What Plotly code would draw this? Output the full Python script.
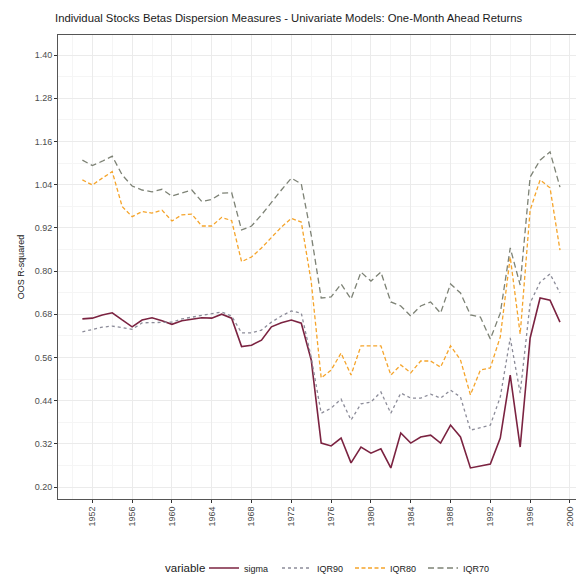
import plotly.graph_objects as go

years = list(range(1951, 2000))

sigma = [0.667, 0.669, 0.678, 0.684, 0.664, 0.645, 0.664, 0.670, 0.662, 0.652,
         0.662, 0.666, 0.670, 0.669, 0.680, 0.669, 0.590, 0.594, 0.608, 0.645,
         0.656, 0.664, 0.655, 0.553, 0.322, 0.314, 0.336, 0.267, 0.311, 0.294,
         0.306, 0.253, 0.350, 0.322, 0.339, 0.344, 0.322, 0.372, 0.339, 0.253,
         0.258, 0.264, 0.336, 0.511, 0.311, 0.614, 0.725, 0.719, 0.658]

iqr90 = [0.631, 0.638, 0.644, 0.647, 0.643, 0.638, 0.656, 0.656, 0.656, 0.658,
         0.667, 0.672, 0.678, 0.681, 0.686, 0.675, 0.628, 0.628, 0.636, 0.658,
         0.675, 0.689, 0.683, 0.560, 0.405, 0.419, 0.444, 0.386, 0.431, 0.436,
         0.464, 0.405, 0.461, 0.447, 0.447, 0.458, 0.447, 0.469, 0.450, 0.358,
         0.364, 0.372, 0.450, 0.614, 0.461, 0.711, 0.769, 0.792, 0.739]

iqr80 = [1.053, 1.039, 1.058, 1.076, 0.979, 0.951, 0.965, 0.961, 0.969, 0.939,
         0.956, 0.958, 0.925, 0.925, 0.949, 0.940, 0.826, 0.839, 0.864, 0.892,
         0.922, 0.946, 0.936, 0.770, 0.503, 0.525, 0.572, 0.511, 0.592, 0.592,
         0.592, 0.511, 0.539, 0.517, 0.550, 0.550, 0.533, 0.592, 0.553, 0.456,
         0.525, 0.531, 0.617, 0.839, 0.625, 0.969, 1.053, 1.031, 0.858]

iqr70 = [1.108, 1.093, 1.105, 1.119, 1.067, 1.036, 1.025, 1.020, 1.027, 1.008,
         1.017, 1.025, 0.993, 0.999, 1.016, 1.018, 0.914, 0.925, 0.956, 0.992,
         1.025, 1.058, 1.042, 0.900, 0.725, 0.728, 0.764, 0.722, 0.797, 0.772,
         0.797, 0.714, 0.703, 0.675, 0.703, 0.714, 0.683, 0.764, 0.739, 0.678,
         0.672, 0.611, 0.683, 0.864, 0.761, 1.061, 1.108, 1.131, 1.033]

y_ticks = [0.20, 0.32, 0.44, 0.56, 0.68, 0.80, 0.92, 1.04, 1.16, 1.28, 1.40]
x_ticks = list(range(1952, 2001, 4))

series = [
    ("sigma", sigma, "#7b2341", "solid", 1.6),
    ("IQR90", iqr90, "#8c8c99", "dot", 1.3),
    ("IQR80", iqr80, "#f5a42a", "4px,2.5px", 1.3),
    ("IQR70", iqr70, "#7d8275", "6px,3.5px", 1.3),
]

fig = go.Figure()
for name, vals, color, dash, w in series:
    fig.add_trace(go.Scatter(x=years, y=vals, mode="lines", name=name,
                             line=dict(color=color, dash=dash, width=w)))

fig.update_layout(
    width=576, height=574,
    margin=dict(l=58, r=0, t=35, b=75),
    paper_bgcolor="white", plot_bgcolor="white",
    font=dict(family="Liberation Sans, Arial, sans-serif", color="#4d4d4d", size=9),
    title=dict(text="Individual Stocks Betas Dispersion Measures - Univariate Models: One-Month Ahead Returns",
               x=55/576, xanchor="left", xref="container",
               y=1 - 18/574, yanchor="middle", yref="container",
               font=dict(size=11.3, color="#1a1a1a")),
    showlegend=True,
    legend=dict(orientation="h", x=204/576, xanchor="left", xref="container",
                y=1 - 568/574, yanchor="middle", yref="container",
                font=dict(size=9, color="#1a1a1a"),
                itemwidth=30, tracegroupgap=0,
                entrywidth=28, entrywidthmode="pixels"),
    annotations=[dict(text="variable", xref="paper", yref="paper",
                      x=(207 - 58) / 518, xanchor="right",
                      y=-(568 - 499) / 464, yanchor="middle",
                      showarrow=False, font=dict(size=11.5, color="#1a1a1a"))],
)

fig.update_xaxes(
    range=[1948.55, 2000.61], tickvals=x_ticks, ticktext=[str(t) for t in x_ticks],
    tickangle=-90, ticks="outside", ticklen=3, tickcolor="#333333",
    showgrid=True, gridcolor="#ebebeb", gridwidth=1,
    minor=dict(dtick=2, tick0=1950, showgrid=True, gridcolor="#f5f5f5", gridwidth=0.6, ticks=""),
    showline=True, linecolor="#555555", linewidth=1, mirror=True,
    zeroline=False, tickfont=dict(size=9, color="#4d4d4d"),
)
fig.update_yaxes(
    range=[0.1667, 1.4556], tickvals=y_ticks, ticktext=[f"{v:.2f}" for v in y_ticks],
    ticks="outside", ticklen=3, tickcolor="#333333",
    showgrid=True, gridcolor="#ebebeb", gridwidth=1,
    minor=dict(dtick=0.06, tick0=0.14, showgrid=True, gridcolor="#f5f5f5", gridwidth=0.6, ticks=""),
    showline=True, linecolor="#555555", linewidth=1, mirror=False,
    zeroline=False, tickfont=dict(size=9, color="#4d4d4d"),
    title=dict(text="OOS R-squared", font=dict(size=9, color="#1a1a1a"), standoff=8),
)

fig.write_html("out.html")
